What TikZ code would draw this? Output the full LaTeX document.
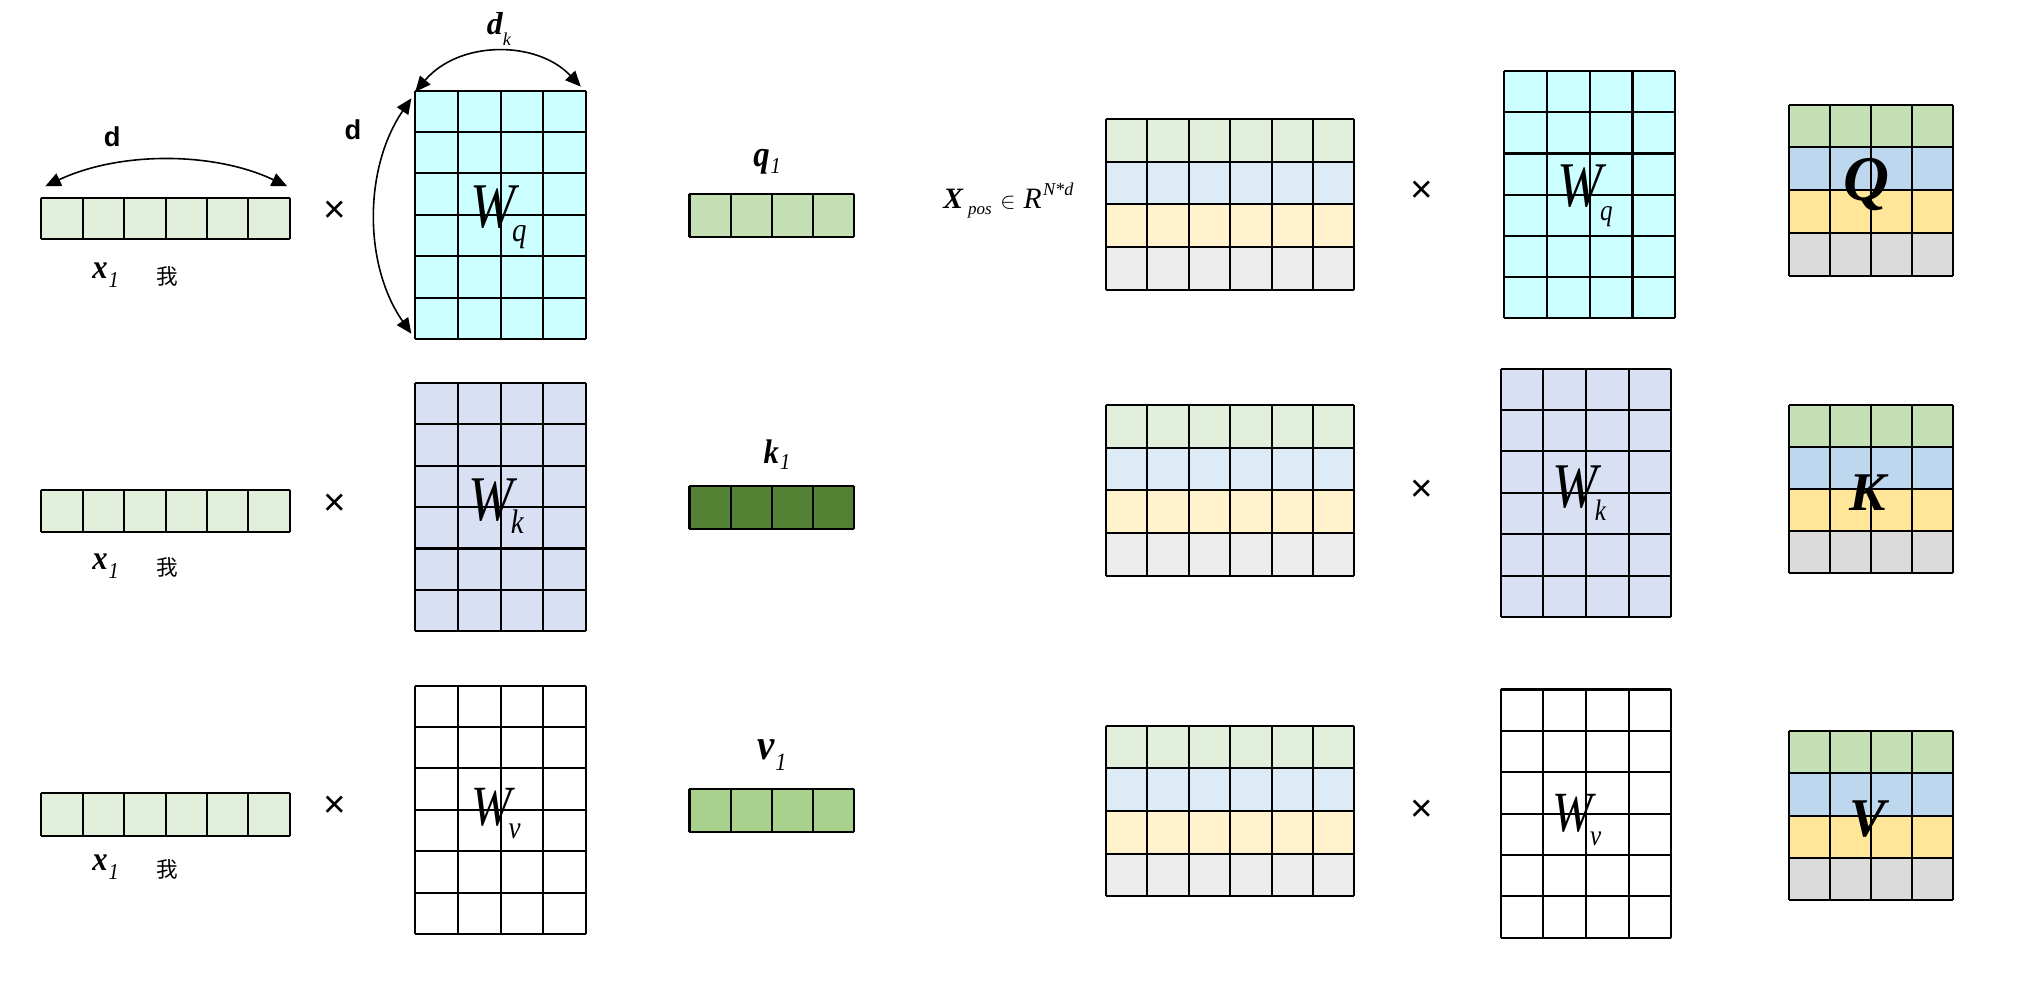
\documentclass[tikz,border=0pt]{standalone}
\usepackage{fontspec}
\setmainfont{Liberation Serif}
\newfontfamily\sansfont{Liberation Sans}
\newfontfamily\cjk{Noto Sans CJK SC}
\usetikzlibrary{arrows.meta}
\definecolor{xgreen}{HTML}{E2EFDA}
\definecolor{wqcyan}{HTML}{CCFFFF}
\definecolor{wklav}{HTML}{DAE0F3}
\definecolor{qgreen}{HTML}{C5E0B4}
\definecolor{kgreen}{HTML}{548235}
\definecolor{vgreen}{HTML}{A9D18E}
\definecolor{xblue}{HTML}{DDEBF7}
\definecolor{xyellow}{HTML}{FFF2CC}
\definecolor{xgrey}{HTML}{EDEDED}
\definecolor{qblue}{HTML}{BDD7EE}
\definecolor{qyellow}{HTML}{FFE699}
\definecolor{qgrey}{HTML}{DBDBDB}
\def\setfs#1{\fontsize{#1}{#1}\selectfont}
\def\cellgrid[#1](#2,#3)(#4,#5)(#6,#7){%
  \path[#1] (#2,#3) rectangle (#4,#5);
  \foreach \i in {0,...,#6} \draw[gridline] ({#2+(#4-#2)*\i/#6},#3) -- ({#2+(#4-#2)*\i/#6},#5);
  \foreach \j in {0,...,#7} \draw[gridline] (#2,{#3+(#5-#3)*\j/#7}) -- (#4,{#3+(#5-#3)*\j/#7});}
\def\rowfills(#1,#2)(#3,#4)#5{%
  \foreach \rowc [count=\ri from 0] in {#5}
    \fill[\rowc] (#1,{#2+(#4-#2)*\ri/4}) rectangle (#3,{#2+(#4-#2)*(\ri+1)/4});}
\def\wlab#1#2#3{\scalebox{0.85}[1]{{\itshape\setfs{#1}W}\kern-1.5pt\raisebox{-6pt}{\itshape\setfs{#2}#3}}}
\def\veclab#1#2#3#4#5{\scalebox{0.9}[1]{{\bfseries\itshape\setfs{#1}#2}\kern0.5pt\raisebox{-#5}{\itshape\setfs{#3}#4}}}
\tikzset{
  gridline/.style={line width=0.9pt, draw=black},
  dimarrow/.style={line width=0.7pt, {Triangle[length=2.4mm,width=2.1mm]}-{Triangle[length=2.4mm,width=2.1mm]}},
  lab/.style={inner sep=0pt, anchor=base west},
  times/.style={inner sep=0pt, font=\sansfont\setfs{17}},
  big/.style={inner sep=0pt, anchor=base, font=\bfseries\itshape}
}
\begin{document}
\begin{tikzpicture}[x=0.2mm,y=-0.2mm]
		%%%%% START %%%%%
		\useasboundingbox (0,0) rectangle (1560,767);
		
		% left: x1 times W gives q1, k1, v1
		\cellgrid[fill=xgreen](32,153)(224,185)(6,1)
		\cellgrid[fill=xgreen](32,379)(224,411)(6,1)
		\cellgrid[fill=xgreen](32,613)(224,646)(6,1)
		
		\cellgrid[fill=wqcyan](321,70)(453,262)(4,6)
		\cellgrid[fill=wklav](321,296)(453,488)(4,6)
		\cellgrid[fill=white](321,530)(453,722)(4,6)
		
		\cellgrid[fill=qgreen](533,150)(660,183)(4,1)
		\cellgrid[fill=kgreen](533,376)(660,409)(4,1)
		\cellgrid[fill=vgreen](533,610)(660,643)(4,1)
		
		\draw[dimarrow] (35,144) .. controls (92,117) and (165,117) .. (222,144);
		\draw[dimarrow] (321,71) .. controls (355,31) and (415,31) .. (449,67);
		\draw[dimarrow] (318,76) .. controls (281,130) and (281,205) .. (318,258);
		
		\node[lab,font=\sansfont\bfseries\setfs{12}] (dx) at (80,113) {d};
		\node[lab,font=\sansfont\bfseries\setfs{12}] (dw) at (266,108) {d};
		\node[lab] (dk) at (376,27) {{\bfseries\itshape\setfs{14}d}\raisebox{-4.5pt}{\itshape\setfs{8}k}};
		
		\foreach \y/\n in {215/1,440/2,673/3} {
			\node[lab] (xl\n) at (71,\y) {\veclab{15}{x}{10}{1}{4pt}};
			\node[lab,font=\cjk\setfs{9.5}] (wo\n) at (121,\y+5) {我};
		}
		\foreach \y/\n in {164/1,390/2,624/3} \node[times] (tl\n) at (259,\y) {×};
		
		\node[lab] (wq) at (363,176) {\wlab{28}{15}{q}};
		\node[lab] (wk) at (362,402) {\wlab{28}{15}{k}};
		\node[lab] (wv) at (364,638) {\wlab{25}{14}{v}};
		
		\node[lab] (q1) at (582,129) {\veclab{16}{q}{10}{1}{3pt}};
		\node[lab] (k1) at (590,358) {\veclab{15}{k}{10}{1}{3pt}};
		\node[lab] (v1) at (585,587) {\veclab{19}{v}{11}{1}{5pt}};
		
		% right: X_pos times W gives Q, K, V
		\node[lab,font=\bfseries\itshape\setfs{13}] (xpx) at (729,161) {X};
		\node[lab,font=\itshape\setfs{7.5}] (xps) at (748,166) {pos};
		\node[lab,font=\setfs{10}] (xpin) at (773,161) {$\in$};
		\node[lab,font=\itshape\setfs{13}] (xpr) at (791,161) {R};
		\node[lab,font=\itshape\setfs{8}] (xpn) at (806,151) {N*d};
		
		\rowfills(855,92)(1047,224){xgreen,xblue,xyellow,xgrey}
		\cellgrid[](855,92)(1047,224)(6,4)
		\rowfills(855,313)(1047,445){xgreen,xblue,xyellow,xgrey}
		\cellgrid[](855,313)(1047,445)(6,4)
		\rowfills(855,561)(1047,693){xgreen,xblue,xyellow,xgrey}
		\cellgrid[](855,561)(1047,693)(6,4)
		
		\foreach \y/\n in {148/1,379/2,627/3} \node[times] (tr\n) at (1099,\y) {×};
		
		\cellgrid[fill=wqcyan](1163,55)(1295,246)(4,6)
		\cellgrid[fill=wklav](1160,285)(1292,477)(4,6)
		\cellgrid[fill=white](1160,533)(1292,725)(4,6)
		
		\node[lab] (rwq) at (1204,160) {\wlab{28}{13}{q}};
		\node[lab] (rwk) at (1200,392) {\wlab{28}{13}{k}};
		\node[lab] (rwv) at (1200,643) {\wlab{25}{13}{v}};
		
		\rowfills(1383,81)(1510,213){qgreen,qblue,qyellow,qgrey}
		\cellgrid[](1383,81)(1510,213)(4,4)
		\rowfills(1383,313)(1510,443){qgreen,qblue,qyellow,qgrey}
		\cellgrid[](1383,313)(1510,443)(4,4)
		\rowfills(1383,565)(1510,696){qgreen,qblue,qyellow,qgrey}
		\cellgrid[](1383,565)(1510,696)(4,4)
		
		\node[big,font=\bfseries\itshape\setfs{28}] (ql) at (1443,155) {Q};
		\node[big,font=\bfseries\itshape\setfs{24}] (kl) at (1444,395) {K};
		\node[big,font=\bfseries\itshape\setfs{24}] (vl) at (1444,647) {V};
		%%%%% END %%%%%
\end{tikzpicture}
\end{document}
